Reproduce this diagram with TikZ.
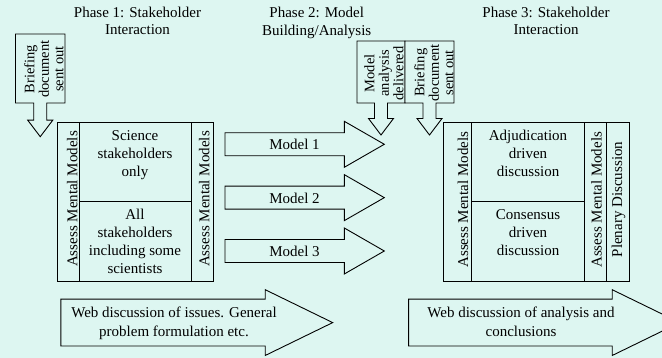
\documentclass[tikz,border=0pt]{standalone}
\usepackage{fontspec}
\setmainfont{Liberation Serif}
\usepackage{tikz}
\usetikzlibrary{positioning}

\definecolor{bgcyan}{RGB}{221,246,241}

\tikzset{
	outline/.style={draw=black, line width=0.9pt, line join=miter},
	cellbox/.style={outline, rectangle, inner sep=0pt, outer sep=0pt},
	celltext/.style={align=center, inner sep=0pt, font=\fontsize{15}{18}\selectfont},
	sidetext/.style={rotate=90, anchor=base, inner sep=0pt, font=\fontsize{15}{18}\selectfont},
	phasetext/.style={align=center, anchor=north, inner sep=0pt, font=\fontsize{15}{17.5}\selectfont},
	callouttext/.style={rotate=90, align=center, anchor=north, inner sep=0pt, font=\fontsize{14.5}{14.5}\selectfont},
	webtext/.style={align=center, anchor=north, inner sep=0pt, font=\fontsize{15}{19}\selectfont}
}

% box with a down arrow: left, right, top, bottom, tip
\newcommand{\downcallout}[5]{%
	\pgfmathsetmacro{\calloutmid}{(#1+#2)/2}
	\pgfmathsetmacro{\calloutbase}{#5-16.5}
	\draw[outline, fill=bgcyan] (#1,#3) -- (#2,#3) -- (#2,#4) -- (\calloutmid+6.5,#4) -- (\calloutmid+6.5,\calloutbase)
		-- (\calloutmid+12.5,\calloutbase) -- (\calloutmid,#5) -- (\calloutmid-12.5,\calloutbase)
		-- (\calloutmid-6.5,\calloutbase) -- (\calloutmid-6.5,#4) -- (#1,#4) -- cycle;
}
% block arrow to the right: left, head base, tip, centre, shaft half, head half
\newcommand{\rightblock}[6]{%
	\draw[outline, fill=bgcyan] (#1,#4-#5) -- (#2,#4-#5) -- (#2,#4-#6) -- (#3,#4)
		-- (#2,#4+#6) -- (#2,#4+#5) -- (#1,#4+#5) -- cycle;
}

\begin{document}
\begin{tikzpicture}[x=1pt, y=-1pt]
	\useasboundingbox (0,0) rectangle (662,358);
	\clip (0,0) rectangle (662,358);
	\fill[bgcyan] (0,0) rectangle (662,358);

	% phase headings
	\node[phasetext] (phase1) at (137.5,6.75) {Phase 1: Stakeholder\\Interaction};
	\node[phasetext] (phase2) at (316.7,7) {Phase 2: Model\\Building/Analysis};
	\node[phasetext] (phase3) at (546,6.75) {Phase 3: Stakeholder\\Interaction};

	% briefing callouts
	\downcallout{15.5}{65}{34}{103}{136.7}
	\node[callouttext] (brief1) at (24,69) {Briefing\\document\\sent out};
	\downcallout{357}{405}{41}{103}{135}
	\node[callouttext] (delivered) at (364,73.3) {Model\\analysis\\delivered};
	\downcallout{405}{454}{41}{103}{135}
	\node[callouttext] (brief2) at (414,72.8) {Briefing\\document\\sent out};

	% phase 1 block
	\node[cellbox, minimum width=22pt, minimum height=159pt] (amA) at (68,201.5) {};
	\node[cellbox, minimum width=112pt, minimum height=79pt] (sci) at (135,161.5) {};
	\node[cellbox, minimum width=112pt, minimum height=80pt] (all) at (135,241) {};
	\node[cellbox, minimum width=22pt, minimum height=159pt] (amB) at (202,201.5) {};
	\node[celltext, anchor=north, below=8.2pt of sci.north] (scitext) {Science\\stakeholders\\only};
	\node[celltext, anchor=north, below=8.2pt of all.north] (alltext) {All\\stakeholders\\including some\\scientists};
	\node[sidetext] (amAtext) at (77.3,199) {Assess Mental Models};
	\node[sidetext] (amBtext) at (209.4,199) {Assess Mental Models};

	% models
	\foreach \n in {1,2,3} {
		\pgfmathsetmacro{\modely}{144.3+53.35*(\n-1)}
		\rightblock{225}{344.3}{384.3}{\modely}{11.5}{23}
		\node[celltext, anchor=base] (model\n) at (294.5,\modely+5.7) {Model \n};
	}

	% phase 3 block
	\node[cellbox, minimum width=28.4pt, minimum height=159pt] (amC) at (457.5,201.5) {};
	\node[cellbox, minimum width=112.6pt, minimum height=79pt] (adj) at (528,161.5) {};
	\node[cellbox, minimum width=112.6pt, minimum height=80pt] (cons) at (528,241) {};
	\node[cellbox, minimum width=22.4pt, minimum height=159pt] (amD) at (595.5,201.5) {};
	\node[cellbox, minimum width=22.3pt, minimum height=159pt] (plenary) at (617.85,201.5) {};
	\node[celltext, anchor=north, below=8.2pt of adj.north] (adjtext) {Adjudication\\driven\\discussion};
	\node[celltext, anchor=north, below=8.2pt of cons.north] (constext) {Consensus\\driven\\discussion};
	\node[sidetext] (amCtext) at (468,199.7) {Assess Mental Models};
	\node[sidetext] (amDtext) at (601.7,199.8) {Assess Mental Models};
	\node[sidetext] (plenarytext) at (622,199.5) {Plenary Discussion};

	% web discussions
	\rightblock{60.8}{265.2}{332.7}{322.6}{23.4}{32.9}
	\node[webtext] (webA) at (174,306.5) {Web discussion of issues. General\\problem formulation etc.};
	\rightblock{408.6}{612.2}{679.7}{322.6}{23.4}{32.9}
	\node[webtext] (webB) at (521,306.5) {Web discussion of analysis and\\conclusions};
\end{tikzpicture}
\end{document}
